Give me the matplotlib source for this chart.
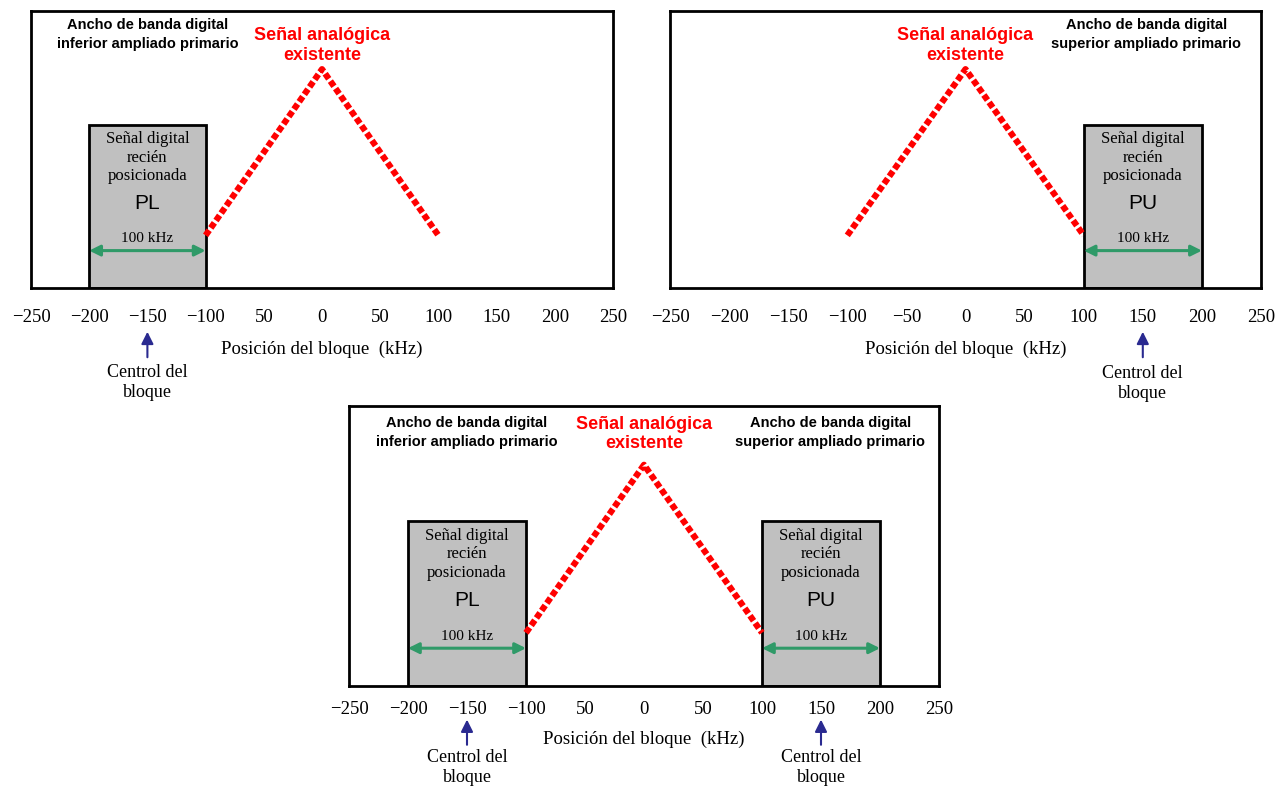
import matplotlib
matplotlib.use('Agg')
import matplotlib.pyplot as plt
from matplotlib.patches import Rectangle
import matplotlib.transforms as mtransforms

# datos
ticks = [-250, -200, -150, -100, -50, 0, 50, 100, 150, 200, 250]
labels_a = ['\u2212250', '\u2212200', '\u2212150', '\u2212100', '50', '0', '50', '100', '150', '200', '250']
labels_b = ['\u2212250', '\u2212200', '\u2212150', '\u2212100', '\u221250', '0', '50', '100', '150', '200', '250']
marks_p1 = [-250, -200, -100, -50, 0, 50, 100, 250]
marks_p2 = [-250, -200, -100, -50, 0, 50, 100, 150, 200, 250]
marks_p3 = ticks
analog_x = [-100, 0, 100]
analog_y = [0.19, 0.79, 0.19]
lower_block = [-200, -100]
upper_block = [100, 200]
block_top = 0.59
block_width_label = '100 kHz'

SERIF = 'Liberation Serif'
SANS = 'Liberation Sans'
GRAY = '#c0c0c0'
GREEN = '#2f9a68'
NAVY = '#2a2a90'

W, H = 1287, 787
fig = plt.figure(figsize=(W / 100, H / 100), dpi=100)


def axes_px(x0, x1, ytop, ybot):
    return fig.add_axes([x0 / W, (H - ybot) / H, (x1 - x0) / W, (ybot - ytop) / H])


def draw_block(ax, lims, name, ytop):
    x0, x1 = lims
    ax.add_patch(Rectangle((x0, 0), x1 - x0, ytop, facecolor=GRAY,
                           edgecolor='black', lw=2, zorder=2))
    xc = (x0 + x1) / 2
    ax.text(xc, ytop - 0.12, 'Señal digital\nrecién\nposicionada', ha='center', va='center',
            family=SERIF, fontsize=12, linespacing=1.22, zorder=3)
    ax.text(xc, ytop - 0.285, name, ha='center', va='center', family=SANS,
            fontsize=15, zorder=3)
    ax.text(xc, 0.178, block_width_label, ha='center', va='center', family=SERIF,
            fontsize=11, zorder=3)
    ax.annotate('', xy=(x1, 0.135), xytext=(x0, 0.135),
                arrowprops=dict(arrowstyle='<|-|>', color=GREEN, lw=2.2,
                                mutation_scale=16, shrinkA=0, shrinkB=0), zorder=3)


def draw_center(ax, xc, y_arrow_top, y_arrow_bot, y_text):
    tr = mtransforms.blended_transform_factory(ax.transData, ax.transAxes)
    ax.annotate('', xy=(xc, y_arrow_top), xytext=(xc, y_arrow_bot), xycoords=tr,
                textcoords=tr, annotation_clip=False,
                arrowprops=dict(arrowstyle='-|>', color=NAVY, lw=1.5,
                                mutation_scale=18, shrinkA=0, shrinkB=0))
    ax.text(xc, y_text, 'Centrol del\nbloque', transform=tr, ha='center', va='center',
            family=SERIF, fontsize=13, linespacing=1.25)


def setup(ax, labels, marks, pad, labelpad):
    ax.set_xlim(-250, 250)
    ax.set_ylim(0, 1)
    ax.set_yticks([])
    ax.set_xticks(ticks)
    ax.set_xticklabels(labels, family=SERIF, fontsize=13.5)
    ax.set_xticks(marks, minor=True)
    ax.tick_params(axis='x', which='major', length=0, pad=pad)
    ax.tick_params(axis='x', which='minor', length=7, width=2, direction='out')
    for s in ax.spines.values():
        s.set_linewidth(2)
    ax.set_xlabel('Posición del bloque  (kHz)', family=SERIF, fontsize=13.5, labelpad=labelpad)
    ax.plot(analog_x, analog_y, color='red', lw=4.5, linestyle=(0, (1.0, 0.45)), zorder=4,
            solid_capstyle='butt')


def title_lower(ax, x, y):
    ax.text(x, y, 'Ancho de banda digital\ninferior ampliado primario', ha='center',
            va='center', family=SANS, weight='bold', fontsize=10.5, linespacing=1.4)


def title_upper(ax, x, y):
    ax.text(x, y, 'Ancho de banda digital\nsuperior ampliado primario', ha='center',
            va='center', family=SANS, weight='bold', fontsize=10.5, linespacing=1.4)


def title_analog(ax, y):
    ax.text(0, y, 'Señal analógica\nexistente', ha='center', va='center', family=SANS,
            weight='bold', fontsize=13, color='red', linespacing=1.2)


# panel superior izquierdo
ax1 = axes_px(31, 613, 11, 288)
setup(ax1, labels_a, marks_p1, 15, 11)
draw_block(ax1, lower_block, 'PL', block_top)
title_lower(ax1, -150, 0.915)
title_analog(ax1, 0.875)
draw_center(ax1, -150, -0.158, -0.25, -0.34)

# panel superior derecho
ax2 = axes_px(670, 1261, 11, 288)
setup(ax2, labels_b, marks_p2, 15, 11)
draw_block(ax2, upper_block, 'PU', block_top)
title_upper(ax2, 153, 0.915)
title_analog(ax2, 0.875)
draw_center(ax2, 150, -0.158, -0.25, -0.345)

# panel inferior
ax3 = axes_px(349, 939, 406, 686)
setup(ax3, labels_a, marks_p3, 11, 9)
draw_block(ax3, lower_block, 'PL', block_top)
draw_block(ax3, upper_block, 'PU', block_top)
title_lower(ax3, -150, 0.905)
title_upper(ax3, 158, 0.905)
title_analog(ax3, 0.9)
draw_center(ax3, -150, -0.12, -0.21, -0.292)
draw_center(ax3, 150, -0.12, -0.21, -0.292)

fig.savefig('out.png', dpi=100)
